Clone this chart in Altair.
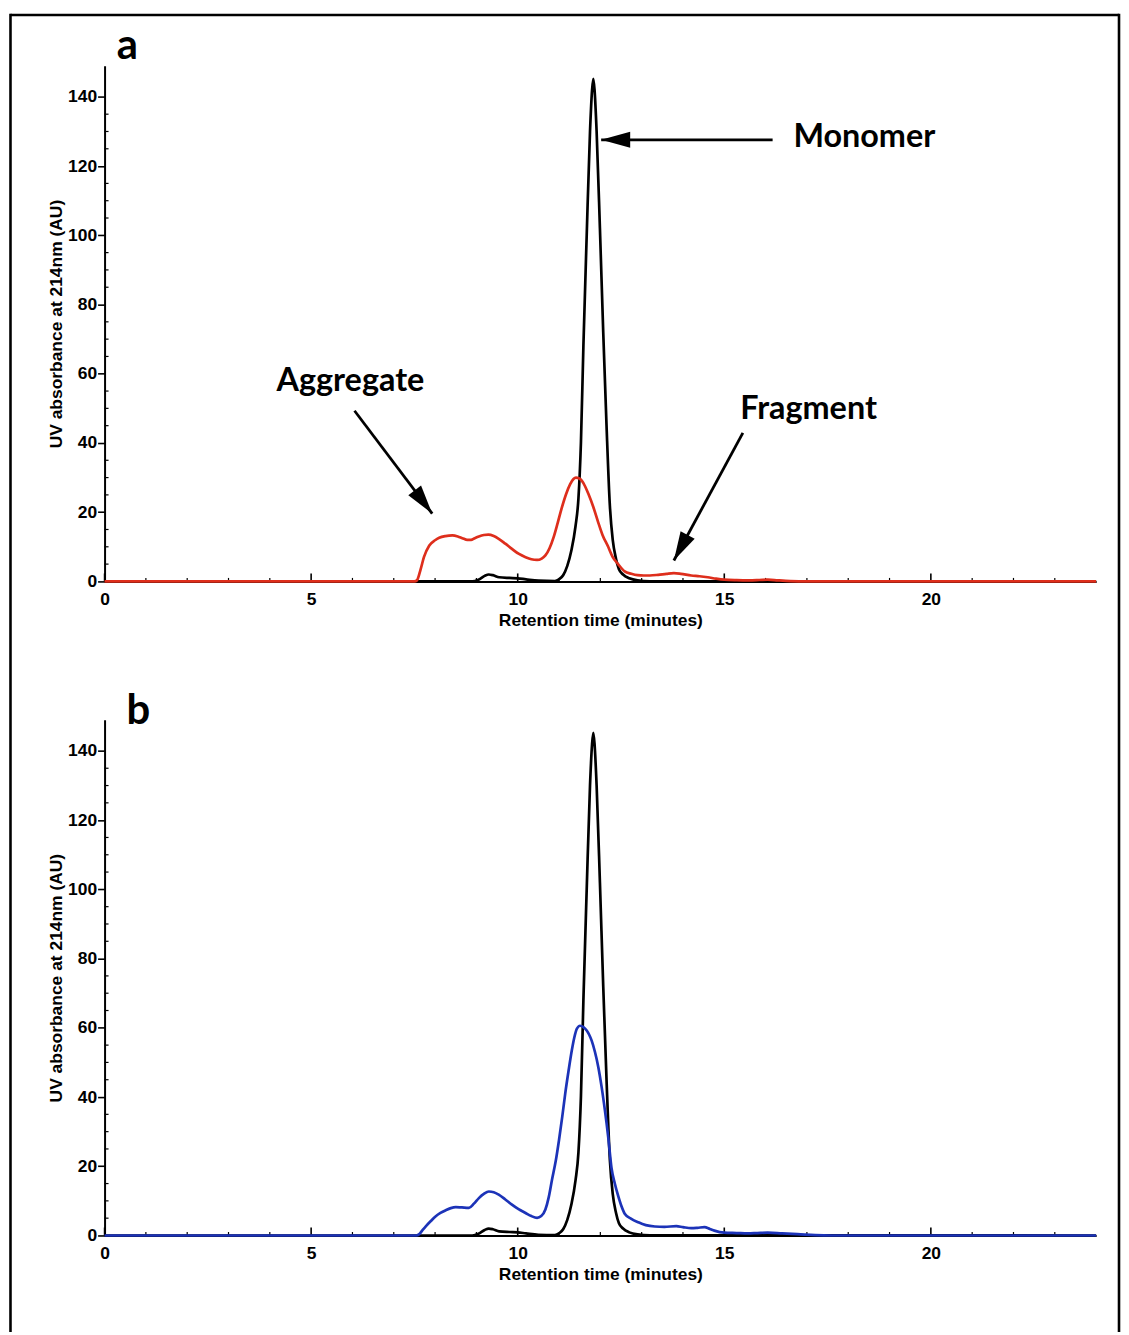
import altair as alt
import pandas as pd

# ---------------- data ----------------
time_black = [0, 8.9, 9.05, 9.2, 9.3, 9.4, 9.55, 9.8, 10.0, 10.2, 10.5, 10.9, 11.0, 11.1, 11.2,
              11.3, 11.4, 11.47, 11.53, 11.59, 11.67, 11.75, 11.8, 11.83, 11.86, 11.91, 11.99,
              12.07, 12.15, 12.23, 12.3, 12.38, 12.45, 12.55, 12.7, 12.9, 13.2, 24]
uv_black = [0, 0, 0.5, 1.6, 2.0, 1.8, 1.2, 1.0, 0.9, 0.6, 0.2, 0.1, 0.6, 1.8, 4.5,
            9, 16, 24, 40, 68, 100, 130, 142, 145.2, 142, 130, 102,
            72, 45, 22, 12, 6.5, 3.5, 2.0, 0.9, 0.3, 0.05, 0]

time_red = [0, 7.5, 7.56, 7.65, 7.73, 7.86, 8.0, 8.1, 8.25, 8.42, 8.55, 8.66, 8.78, 8.87, 8.96,
            9.06, 9.18, 9.29, 9.42, 9.54, 9.7, 9.86, 10.02, 10.19, 10.33, 10.47, 10.58, 10.67,
            10.77, 10.87, 10.97, 11.07, 11.17, 11.27, 11.35, 11.41, 11.48, 11.55, 11.63, 11.71,
            11.83, 11.95, 12.05, 12.19, 12.3, 12.43, 12.59, 12.75, 12.9, 13.05, 13.2, 13.4, 13.6,
            13.78, 13.95, 14.2, 14.4, 14.6, 14.8, 15.0, 15.3, 15.6, 15.85, 16.05, 16.3, 16.6,
            17.0, 24]
uv_red = [0, 0, 0.3, 3.5, 7.0, 10.4, 11.9, 12.6, 13.1, 13.3, 13.0, 12.5, 12.0, 12.0, 12.5,
          13.0, 13.4, 13.5, 13.1, 12.3, 10.9, 9.4, 8.0, 7.0, 6.4, 6.2, 6.6, 7.5,
          9.6, 12.8, 17.0, 21.4, 25.2, 28.1, 29.6, 30.0, 29.8, 29.1, 27.5, 25.3,
          21.5, 17.0, 13.5, 10.0, 7.0, 5.0, 2.9, 2.2, 1.8, 1.7, 1.7, 1.9, 2.2,
          2.4, 2.2, 1.7, 1.5, 1.2, 0.8, 0.5, 0.35, 0.3, 0.4, 0.5, 0.3, 0.1,
          0, 0]

time_blue = [0, 7.55, 7.61, 7.7, 7.78, 7.9, 8.01, 8.13, 8.26, 8.38, 8.5, 8.65, 8.82, 8.94,
             9.06, 9.18, 9.3, 9.42, 9.54, 9.7, 9.86, 10.02, 10.19, 10.33, 10.47, 10.57, 10.67,
             10.75, 10.83, 10.92, 11.0, 11.08, 11.15, 11.23, 11.31, 11.37, 11.43, 11.51, 11.59,
             11.67, 11.73, 11.79, 11.87, 11.95, 12.03, 12.11, 12.19, 12.27, 12.35, 12.43, 12.51,
             12.59, 12.75, 12.92, 13.1, 13.32, 13.55, 13.84, 14.0, 14.2, 14.35, 14.52, 14.65,
             14.76, 15.0, 15.3, 15.57, 15.8, 16.05, 16.4, 16.77, 17.2, 17.6, 24]
uv_blue = [0, 0, 0.3, 1.6, 2.7, 4.2, 5.5, 6.5, 7.3, 7.9, 8.2, 8.1, 8.0, 9.2,
           10.8, 12.0, 12.7, 12.5, 11.8, 10.4, 8.9, 7.6, 6.5, 5.6, 5.1, 5.6, 7.5,
           11, 16.1, 21.5, 27.6, 34.5, 41, 47.5, 53.5, 57.2, 59.7, 60.6, 60.2,
           59.2, 58.0, 56.3, 53, 48.7, 43, 36.2, 28.5, 19.5, 15, 11.5, 8.5,
           6.3, 4.8, 3.8, 3.0, 2.6, 2.5, 2.7, 2.4, 2.1, 2.2, 2.4, 1.9,
           1.4, 0.8, 0.7, 0.6, 0.7, 0.8, 0.6, 0.4, 0.1, 0, 0]

x_major_ticks = [0, 5, 10, 15, 20]
x_minor_ticks = [1, 2, 3, 4, 6, 7, 8, 9, 11, 12, 13, 14, 16, 17, 18, 19, 21, 22, 23]
y_major_ticks = [0, 20, 40, 60, 80, 100, 120, 140]
y_minor_ticks = [5, 10, 15, 25, 30, 35, 45, 50, 55, 65, 70, 75, 85, 90, 95,
                 105, 110, 115, 125, 130, 135]

note_text = ["Monomer", "Aggregate", "Fragment"]
note_t = [18.39, 5.95, 17.04]
note_v = [128.5, 57.9, 49.8]

arrow_from_t = [16.17, 6.05, 15.45]
arrow_from_v = [127.6, 49.3, 42.9]
arrow_tip_t = [12.02, 7.93, 13.78]
arrow_tip_v = [127.6, 19.6, 6.05]

panel_letter = ["a", "b"]
panel_letter_t = [0.55, 0.82]
panel_letter_v = [154.7, 151.5]

# ---------------- styling ----------------
W, H = 996, 518
X_DOMAIN = [0, 24]
Y_DOMAIN = [0, 149]
AXIS_FONT = "Liberation Sans"
NOTE_FONT = "Lato"
RED = "#de2e1c"
BLUE = "#1c33b8"
ARROW_ANGLES = [270, 142.9, 208.3]
ARROW_PATH = "M0,0L0.55,2L-0.55,2Z"

xs = alt.Scale(domain=X_DOMAIN, nice=False, zero=False)
ys = alt.Scale(domain=Y_DOMAIN, nice=False, zero=False)

X_AXIS = alt.Axis(values=x_major_ticks, ticks=False, title="Retention time (minutes)",
                  labelPadding=9, titlePadding=4, format="d", labelFlush=False)
Y_AXIS = alt.Axis(values=y_major_ticks, ticks=True, tickSize=7, tickWidth=1.6,
                  tickColor="black", title="UV absorbance at 214nm (AU)",
                  labelPadding=1, titlePadding=2, format="d", labelFlush=False)


def X(field):
    return alt.X(field, scale=xs, axis=X_AXIS)


def Y(field):
    return alt.Y(field, scale=ys, axis=Y_AXIS)


def curve(t, v, color):
    df = pd.DataFrame({"t": t, "v": v})
    return alt.Chart(df).mark_line(
        interpolate="monotone", color=color, strokeWidth=2.7
    ).encode(x=X("t:Q"), y=Y("v:Q"))


def tick_layers():
    xmaj = alt.Chart(pd.DataFrame({"t": x_major_ticks})).mark_rule(
        color="black", strokeWidth=1.6).encode(
        x=X("t:Q"), y=alt.value(H), y2=alt.value(H - 8))
    xmin = alt.Chart(pd.DataFrame({"t": x_minor_ticks})).mark_rule(
        color="black", strokeWidth=1.2).encode(
        x=X("t:Q"), y=alt.value(H), y2=alt.value(H - 3.5))
    ymin = alt.Chart(pd.DataFrame({"v": y_minor_ticks})).mark_rule(
        color="black", strokeWidth=1.2).encode(
        y=Y("v:Q"), x=alt.value(0), x2=alt.value(4))
    return [xmaj, xmin, ymin]


def letter(i):
    df = pd.DataFrame({"t": [panel_letter_t[i]], "v": [panel_letter_v[i]],
                       "txt": [panel_letter[i]]})
    return alt.Chart(df).mark_text(
        font=NOTE_FONT, fontWeight="bold", fontSize=42, color="black",
        align="center", baseline="middle").encode(
        x=X("t:Q"), y=Y("v:Q"), text="txt:N")


one = pd.DataFrame({"k": [0]})
border = [
    alt.Chart(one).mark_rule(color="black", strokeWidth=2.6).encode(
        x=alt.value(-94.5), x2=alt.value(1019), y=alt.value(-51)),
    alt.Chart(one).mark_rule(color="black", strokeWidth=2.6).encode(
        x=alt.value(-94.5), y=alt.value(-52.3), y2=alt.value(1272)),
    alt.Chart(one).mark_rule(color="black", strokeWidth=2.6).encode(
        x=alt.value(1019), y=alt.value(-52.3), y2=alt.value(1272)),
]

notes_df = pd.DataFrame({"txt": note_text, "t": note_t, "v": note_v})
notes = alt.Chart(notes_df).mark_text(
    font=NOTE_FONT, fontWeight="bold", fontSize=32.5, color="black",
    align="center", baseline="middle").encode(
    x=X("t:Q"), y=Y("v:Q"), text="txt:N")

arrows_df = pd.DataFrame({"t1": arrow_from_t, "v1": arrow_from_v,
                          "t2": arrow_tip_t, "v2": arrow_tip_v, "ang": ARROW_ANGLES})
shafts = alt.Chart(arrows_df).mark_rule(color="black", strokeWidth=2.8).encode(
    x=X("t1:Q"), x2="t2:Q", y=Y("v1:Q"), y2="v2:Q")
heads = alt.Chart(arrows_df).mark_point(
    shape=ARROW_PATH, filled=True, color="black", opacity=1, size=850, strokeWidth=0).encode(
    x=X("t2:Q"), y=Y("v2:Q"), angle=alt.Angle("ang:Q", scale=None))

panel_a = alt.layer(
    curve(time_black, uv_black, "black"),
    *tick_layers(),
    curve(time_red, uv_red, RED),
    shafts, heads, notes, letter(0),
    *border,
).properties(width=W, height=H)

panel_b = alt.layer(
    curve(time_black, uv_black, "black"),
    *tick_layers(),
    curve(time_blue, uv_blue, BLUE),
    letter(1),
).properties(width=W, height=H)

chart = alt.vconcat(panel_a, panel_b, spacing=139, bounds="flush").properties(
    padding={"left": 0, "top": 0, "right": 0, "bottom": 0},
    background="white",
).configure_view(stroke="transparent").configure_axis(
    grid=False, domainColor="black", domainWidth=2,
    labelFont=AXIS_FONT, labelFontWeight="bold", labelFontSize=17.5, labelColor="black",
    titleFont=AXIS_FONT, titleFontWeight="bold", titleFontSize=17.5, titleColor="black",
)

chart.save("out.html", embed_options={"renderer": "svg", "actions": False})
